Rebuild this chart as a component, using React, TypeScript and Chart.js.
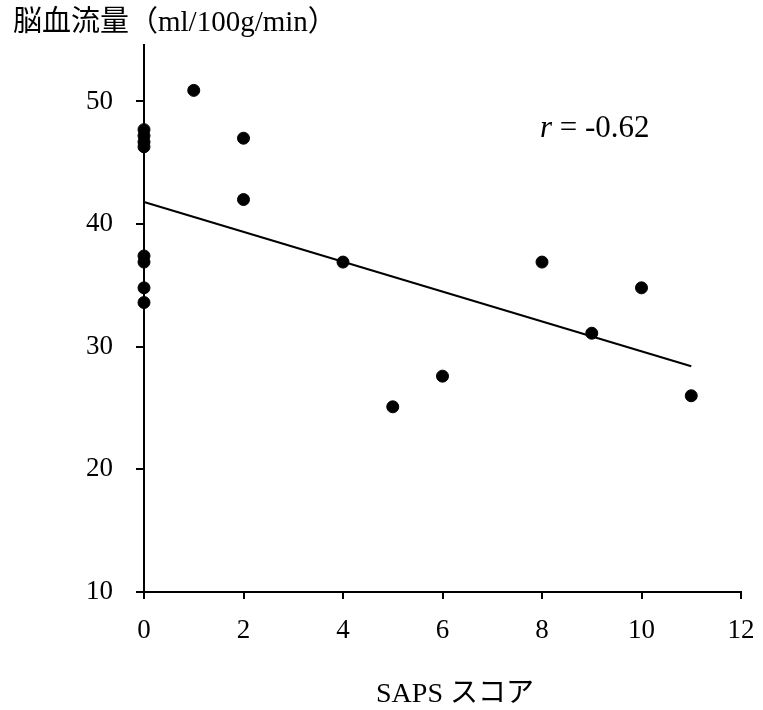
import React, { useEffect, useRef } from "react";
import { Chart, registerables } from "chart.js";

Chart.register(...registerables);

const pointX = [0, 0, 0, 0, 0, 0, 0, 0, 1, 2, 2, 4, 5, 6, 8, 9, 10, 11];
const pointY = [47.7, 47.2, 46.7, 46.3, 37.4, 36.9, 34.8, 33.6, 50.9, 47.0, 42.0, 36.9, 25.1, 27.6, 36.9, 31.1, 34.8, 26.0];
const lineX = [0, 11];
const lineY = [41.8, 28.4];
const xTicks = [0, 2, 4, 6, 8, 10, 12];
const yTicks = [10, 20, 30, 40, 50];
const yTitle = "脳血流量（ml/100g/min）";
const xTitle = "SAPS スコア";
const rLabel = "-0.62";

const FONT = "'Liberation Serif', 'Noto Sans CJK JP', serif";

const textPlugin = {
  id: "texts",
  afterDraw(chart: any) {
    const ctx = chart.ctx;
    ctx.save();
    ctx.fillStyle = "#000";
    ctx.textBaseline = "alphabetic";
    ctx.textAlign = "left";
    ctx.font = `29px ${FONT}`;
    ctx.fillText(yTitle, 13, 31);
    ctx.textAlign = "center";
    ctx.font = `28px ${FONT}`;
    ctx.fillText(xTitle, 455, 702);
    ctx.textAlign = "left";
    ctx.font = `italic 31px ${FONT}`;
    const rx = 540;
    const ry = 137;
    ctx.fillText("r", rx, ry);
    const w = ctx.measureText("r").width;
    ctx.font = `31px ${FONT}`;
    ctx.fillText(" = " + rLabel, rx + w, ry);
    ctx.restore();
  },
};

export default function App() {
  const ref = useRef<HTMLCanvasElement>(null);
  useEffect(() => {
    if (!ref.current) return;
    const chart = new Chart(ref.current, {
      type: "scatter",
      data: {
        datasets: [
          {
            data: pointX.map((x, i) => ({ x, y: pointY[i] })),
            backgroundColor: "#000",
            borderColor: "#000",
            pointRadius: 6,
            pointHoverRadius: 6,
            showLine: false,
            clip: false,
          } as any,
          {
            data: lineX.map((x, i) => ({ x, y: lineY[i] })),
            borderColor: "#000",
            borderWidth: 2,
            pointRadius: 0,
            showLine: true,
            clip: false,
          } as any,
        ],
      },
      options: {
        animation: false,
        responsive: true,
        maintainAspectRatio: false,
        layout: { padding: { top: 45, right: 22, left: 0, bottom: 0 } },
        plugins: { legend: { display: false }, tooltip: { enabled: false } },
        scales: {
          x: {
            type: "linear",
            min: 0,
            max: 12,
            afterBuildTicks: (s: any) => {
              s.ticks = xTicks.map((v) => ({ value: v }));
            },
            afterFit: (s: any) => {
              s.height = 118;
              s.paddingLeft = 0;
              s.paddingRight = 0;
            },
            border: { color: "#000", width: 2 },
            grid: { drawOnChartArea: false, drawTicks: true, tickLength: 7, color: "#000", lineWidth: 2 },
            ticks: { color: "#000", font: { family: FONT, size: 27 }, padding: 16, maxRotation: 0 },
          },
          y: {
            type: "linear",
            min: 10,
            max: 54.6,
            afterBuildTicks: (s: any) => {
              s.ticks = yTicks.map((v) => ({ value: v }));
            },
            afterFit: (s: any) => {
              s.width = 144;
              s.paddingTop = 0;
              s.paddingBottom = 0;
            },
            border: { color: "#000", width: 2 },
            grid: { drawOnChartArea: false, drawTicks: true, tickLength: 8, color: "#000", lineWidth: 2 },
            ticks: { color: "#000", font: { family: FONT, size: 27 }, padding: 23 },
          },
        },
      } as any,
      plugins: [textPlugin],
    });
    return () => chart.destroy();
  }, []);
  return (
    <div style={{ position: "fixed", left: 0, top: 0, width: 763, height: 710, background: "#fff" }}>
      <canvas ref={ref} />
    </div>
  );
}
